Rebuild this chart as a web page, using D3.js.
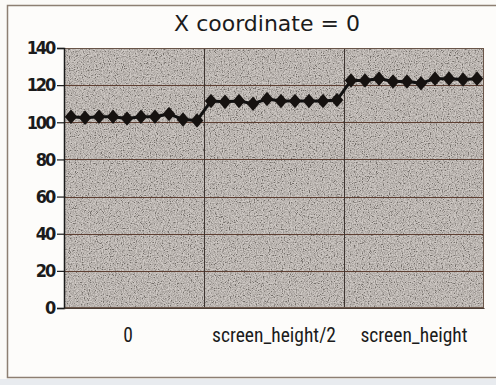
<!DOCTYPE html>
<html>
<head>
<meta charset="utf-8">
<script src="https://cdn.jsdelivr.net/npm/d3@7"></script>
<style>
  html, body { margin: 0; padding: 0; background: #fbfaf7; }
  svg { display: block; }
</style>
</head>
<body>
<script>
// Category labels along the horizontal axis
const categories = ["0", "screen_height/2", "screen_height"];
// Ten samples measured in each category
const samplesAtZero = [103, 102.5, 103, 103, 102, 103, 103, 104.5, 101.5, 101];
const samplesAtHalf = [111.5, 111, 111.5, 110, 112.5, 111.5, 111.5, 111.5, 111.5, 112];
const samplesAtFull = [122.5, 122.5, 123.5, 122, 122, 121, 123.5, 123.5, 123, 123.5];
// Value axis ticks
const yTicks = [0, 20, 40, 60, 80, 100, 120, 140];
const chartTitle = "X coordinate = 0";

const W = 496, H = 385;
const plot = { left: 64, right: 484, top: 48, bottom: 308 };

const groups = [samplesAtZero, samplesAtHalf, samplesAtFull];
const points = [];
groups.forEach((arr, g) => arr.forEach((v, k) => points.push({ cat: categories[g], idx: g * arr.length + k, value: v })));

const svg = d3.select("body").append("svg").attr("width", W).attr("height", H);

// grain filter for the plot background
const defs = svg.append("defs");
const f = defs.append("filter").attr("id", "grain").attr("x", 0).attr("y", 0).attr("width", 1).attr("height", 1);
f.append("feTurbulence").attr("type", "fractalNoise").attr("baseFrequency", 0.85).attr("numOctaves", 2).attr("seed", 4).attr("result", "n");
f.append("feColorMatrix").attr("in", "n").attr("type", "matrix")
  .attr("values", "1 0 0 0 0  1 0 0 0 0  1 0 0 0 0  0 0 0 0 1").attr("result", "g");
const ct = f.append("feComponentTransfer").attr("in", "g");
["feFuncR", "feFuncG", "feFuncB"].forEach(n => ct.append(n).attr("type", "linear").attr("slope", 2.4).attr("intercept", -0.65));

// outer frame
svg.append("rect").attr("x", 7.5).attr("y", 5.5).attr("width", 500).attr("height", 372)
  .attr("fill", "#fdfcfa").attr("stroke", "#8d7f72").attr("stroke-width", 1.5);
svg.append("rect").attr("x", 0).attr("y", 379).attr("width", W).attr("height", 6).attr("fill", "#e8ebef");

// scales
const x = d3.scaleBand().domain(points.map(d => d.idx)).range([plot.left, plot.right]);
const xCat = d3.scaleBand().domain(categories).range([plot.left, plot.right]);
const y = d3.scaleLinear().domain([0, 140]).range([plot.bottom, plot.top]);

// plot area
svg.append("rect").attr("x", plot.left).attr("y", plot.top)
  .attr("width", plot.right - plot.left).attr("height", plot.bottom - plot.top).attr("fill", "#b6ada6");
svg.append("rect").attr("x", plot.left).attr("y", plot.top)
  .attr("width", plot.right - plot.left).attr("height", plot.bottom - plot.top)
  .attr("filter", "url(#grain)").attr("opacity", 0.36);

// horizontal gridlines
svg.append("g").selectAll("line").data(yTicks.filter(t => t > 0)).join("line")
  .attr("x1", plot.left).attr("x2", plot.right)
  .attr("y1", d => Math.round(y(d)) + 0.5).attr("y2", d => Math.round(y(d)) + 0.5)
  .attr("stroke", "#5e3f32").attr("stroke-width", 1.1);

// vertical category dividers
svg.append("g").selectAll("line").data(categories.slice(1)).join("line")
  .attr("x1", d => Math.round(xCat(d)) + 0.5).attr("x2", d => Math.round(xCat(d)) + 0.5)
  .attr("y1", plot.top).attr("y2", plot.bottom)
  .attr("stroke", "#3d3430").attr("stroke-width", 1);

// plot border
svg.append("rect").attr("x", plot.left + 0.5).attr("y", plot.top + 0.5)
  .attr("width", plot.right - plot.left - 1).attr("height", plot.bottom - plot.top - 1)
  .attr("fill", "none").attr("stroke", "#6a5548").attr("stroke-width", 1);

// value axis
const yAxis = svg.append("g").attr("transform", `translate(${plot.left},0)`)
  .call(d3.axisLeft(y).tickValues(yTicks).tickSize(7).tickPadding(3));
yAxis.select(".domain").attr("stroke", "#1a1a1a").attr("stroke-width", 1.5);
yAxis.selectAll(".tick line").attr("stroke", "#1a1a1a").attr("stroke-width", 1.2);
yAxis.selectAll(".tick text")
  .attr("font-family", "'DejaVu Sans Condensed', 'DejaVu Sans', sans-serif")
  .attr("font-weight", "bold").attr("font-size", 18).attr("letter-spacing", -2.2)
  .attr("fill", "#1b1b1b");

// category axis
const xAxis = svg.append("g").attr("transform", `translate(0,${plot.bottom})`)
  .call(d3.axisBottom(xCat).tickSize(0).tickPadding(20));
xAxis.select(".domain").attr("stroke", "#4a3d35");
xAxis.selectAll(".tick text")
  .attr("font-family", "'Liberation Sans Narrow', 'Arial Narrow', 'Roboto Condensed', sans-serif")
  .attr("font-size", 19.5).attr("fill", "#1b1b1b");
xAxis.select(".tick text").attr("dx", -6);

// series line and diamond markers
const line = d3.line().x(d => x(d.idx) + x.bandwidth() / 2).y(d => y(d.value));
svg.append("path").datum(points).attr("d", line)
  .attr("fill", "none").attr("stroke", "#111").attr("stroke-width", 3);

const diamond = {
  draw(ctx, size) {
    const hw = Math.sqrt(size) * 0.47, hh = Math.sqrt(size) * 0.55;
    ctx.moveTo(0, -hh); ctx.lineTo(hw, 0); ctx.lineTo(0, hh); ctx.lineTo(-hw, 0); ctx.closePath();
  }
};
svg.append("g").selectAll("path").data(points).join("path")
  .attr("transform", d => `translate(${x(d.idx) + x.bandwidth() / 2},${y(d.value)})`)
  .attr("d", d3.symbol().type(diamond).size(175))
  .attr("fill", "#161210");

// title
svg.append("text").attr("x", 267).attr("y", 31).attr("text-anchor", "middle")
  .attr("font-family", "'DejaVu Sans', Verdana, sans-serif").attr("font-size", 22)
  .attr("fill", "#1b1b1b").text(chartTitle);
</script>
</body>
</html>
